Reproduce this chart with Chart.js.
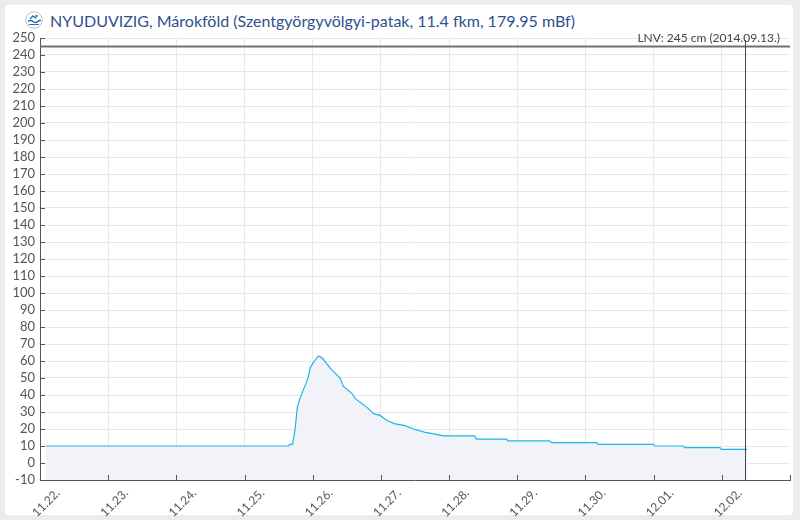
<!DOCTYPE html>
<html><head><meta charset="utf-8">
<script src="https://cdn.jsdelivr.net/npm/chart.js@4.4.1/dist/chart.umd.min.js"></script>
<style>
html,body{margin:0;padding:0;background:#ececec;width:800px;height:520px;overflow:hidden;font-family:Lato,"Open Sans",sans-serif}
#panel{position:absolute;left:5px;top:5px;width:788px;height:510px;background:#fff;border-radius:3px}
#title{position:absolute;left:25px;top:8px;height:24px;display:flex;align-items:center;font-size:16px;color:#30508f;white-space:nowrap}
#title svg{margin-right:7px}
#wrap{position:absolute;left:0;top:0;width:800px;height:520px}
</style></head><body>
<div id="panel"></div>
<div id="title"><svg width="18" height="18" viewBox="0 0 18 18"><circle cx="9" cy="9" r="8.3" fill="#fff" stroke="#b8bfcc" stroke-width="1"/><path d="M3 10.5 Q5.5 8.5 8 10.5 T13 10.5 T15.5 10" stroke="#2f6fb8" stroke-width="1.6" fill="none"/><path d="M5 8 L8 5 L11 7.5" stroke="#2f6fb8" stroke-width="1.3" fill="none"/><circle cx="11.5" cy="5" r="1.2" fill="#2f6fb8"/><rect x="4" y="13" width="10" height="1" fill="#2f6fb8"/></svg><span>NYUDUVIZIG, Márokföld (Szentgyörgyvölgyi-patak, 11.4 fkm, 179.95 mBf)</span></div>
<div id="wrap"><canvas id="c" width="800" height="520"></canvas></div>
<script>
// hours since 11.22. 00:00
const hours = [2, 87.4, 88.0, 88.9, 89.8, 90.6, 91.5, 92.7, 93.9, 94.5, 95.1, 96.2, 98.0, 99.2, 102.1, 105.6, 106.8, 109.8, 110.9, 113.3, 115.6, 117.4, 119.7, 122.1, 125.0, 128.5, 131.5, 135.6, 139.1, 142.0, 153.0, 153.6, 164.2, 164.8, 179.4, 180.0, 195.9, 196.5, 215.8, 216.4, 226.4, 227.0, 239.3, 239.9, 248.9];
const levels = [10, 10, 11, 11, 20, 33, 38, 43, 48, 51, 56, 59, 63, 62, 56, 50, 45, 41, 38, 35, 32, 29, 28, 25, 23, 22, 20, 18, 17, 16, 16, 14, 14, 13, 13, 12, 12, 11, 11, 10, 10, 9, 9, 8, 8];
const dayLabels = ['11.22.', '11.23.', '11.24.', '11.25.', '11.26.', '11.27.', '11.28.', '11.29.', '11.30.', '12.01.', '12.02.'];
const lnvValue = 245;
const lnvLabel = 'LNV: 245 cm (2014.09.13.)';
const nowHour = 248.1;

const extras = {
  id: 'extras',
  afterDraw(chart) {
    const ctx = chart.ctx, a = chart.chartArea;
    const xs = chart.scales.x, ys = chart.scales.y;
    ctx.save();
    // inside tick marks
    ctx.strokeStyle = '#555'; ctx.lineWidth = 1;
    ctx.beginPath();
    xs.ticks.forEach(t => { const px = Math.round(xs.getPixelForValue(t.value)) + 0.5; ctx.moveTo(px, a.bottom); ctx.lineTo(px, a.bottom - 5); });
    ys.ticks.forEach(t => { const py = Math.round(ys.getPixelForValue(t.value)) + 0.5; ctx.moveTo(a.left, py); ctx.lineTo(a.left + 5, py); });
    ctx.stroke();
    // LNV line
    const ly = ys.getPixelForValue(lnvValue);
    ctx.strokeStyle = '#707070'; ctx.lineWidth = 2;
    ctx.beginPath(); ctx.moveTo(a.left, ly); ctx.lineTo(a.right, ly); ctx.stroke();
    ctx.fillStyle = '#444'; ctx.font = '12px Lato'; ctx.textAlign = 'right'; ctx.textBaseline = 'alphabetic';
    ctx.fillText(lnvLabel, a.right - 10, ly - 5);
    // now line
    const nx = Math.round(xs.getPixelForValue(nowHour)) + 0.5;
    ctx.strokeStyle = '#444'; ctx.lineWidth = 1;
    ctx.beginPath(); ctx.moveTo(nx, a.top + 2); ctx.lineTo(nx, a.bottom); ctx.stroke();
    ctx.restore();
  }
};

new Chart(document.getElementById('c'), {
  type: 'line',
  data: {
    datasets: [{
      data: hours.map((h, i) => ({x: h, y: levels[i]})),
      borderColor: '#1cb4ea', borderWidth: 1.2, pointRadius: 0,
      fill: 'start', backgroundColor: '#f2f3f8', tension: 0
    }]
  },
  options: {
    responsive: false, animation: false,
    layout: {padding: {left: 0, top: 38, right: 10, bottom: 0}},
    plugins: {legend: {display: false}, tooltip: {enabled: false}},
    scales: {
      x: {
        type: 'linear', min: 0, max: 264,
        afterBuildTicks: s => { const t = []; for (let v = 0; v <= 264; v += 24) t.push({value: v}); s.ticks = t; },
        ticks: {
          callback: v => dayLabels[Math.round(v / 24)] || '',
          minRotation: 45, maxRotation: 45, autoSkip: false,
          color: '#555', font: {family: 'Lato', size: 12}, labelOffset: 18, padding: 6
        },
        grid: {color: c => (c.tick && c.tick.value === 264) ? 'rgba(0,0,0,0)' : '#e8e8e8', drawTicks: false},
        border: {color: '#555'},
        afterFit: s => { s.height = 40; s.paddingLeft = 0; s.paddingRight = 0; }
      },
      y: {
        min: -10, max: 250,
        ticks: {stepSize: 10, autoSkip: false, color: '#555', font: {family: 'Lato', size: 13}, padding: 5},
        grid: {color: '#e8e8e8', drawTicks: false},
        border: {color: '#555'},
        afterFit: s => { s.width = 40; s.paddingTop = 0; s.paddingBottom = 0; }
      }
    }
  },
  plugins: [extras]
});
</script>
</body></html>
